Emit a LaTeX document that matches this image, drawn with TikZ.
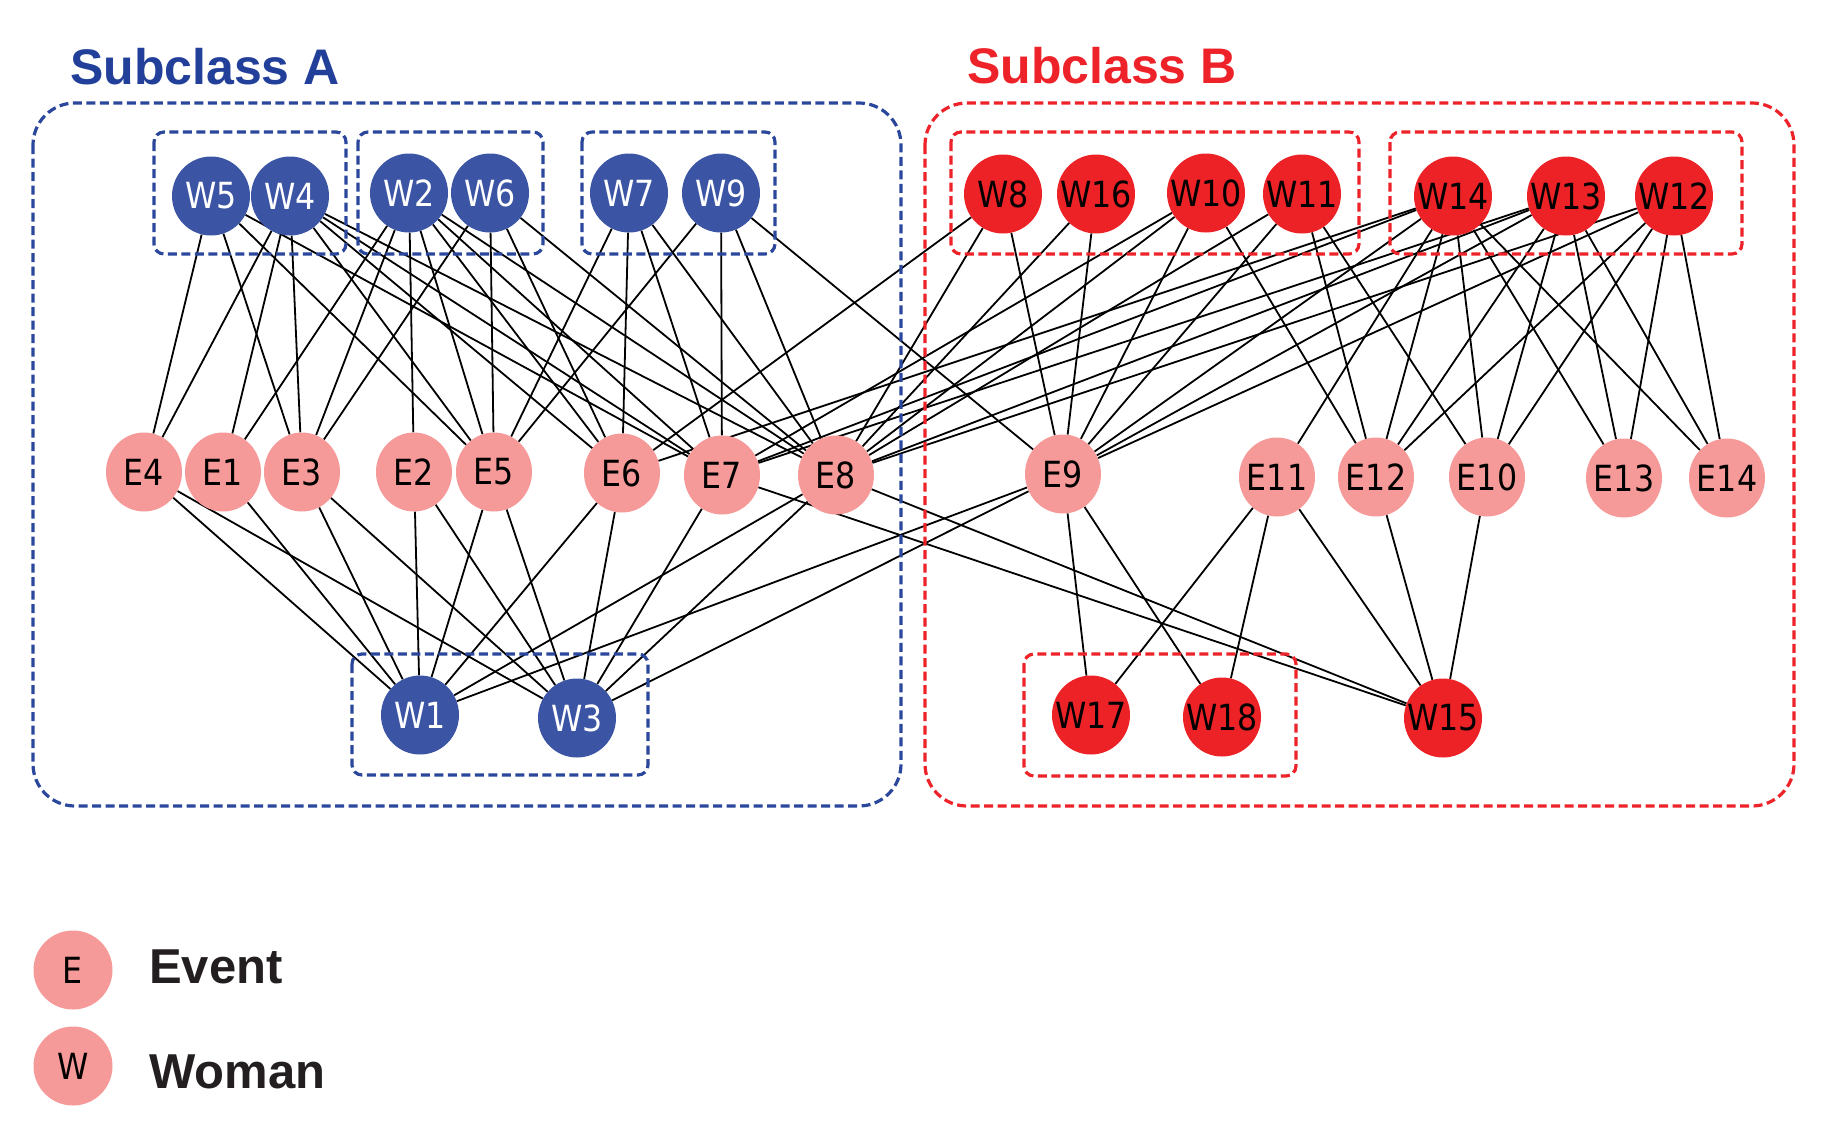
\documentclass[tikz,border=0pt]{standalone}
\usepackage{fontspec}
\setmainfont{Liberation Sans}
\newfontfamily\labfont[FakeStretch=0.88]{DejaVu Sans}
\usetikzlibrary{shapes.geometric,backgrounds}
\definecolor{wblue}{HTML}{3B54A4}
\definecolor{bbox}{HTML}{2A479C}
\definecolor{wred}{HTML}{EC2227}
\definecolor{epink}{HTML}{F59999}
\definecolor{tblue}{HTML}{22409A}
\definecolor{tred}{HTML}{EE2229}
\definecolor{tdark}{HTML}{231F20}
\newcommand\nodelab[1]{\makebox[0pt][c]{#1}}
\begin{document}
\begin{tikzpicture}[x=1pt,y=-1pt,
  base/.style={ellipse,minimum width=78pt,minimum height=79pt,inner sep=0pt,font=\labfont\fontsize{36}{36}\selectfont},
  wa/.style={base,fill=wblue,text=white},
  wb/.style={base,fill=wred,text=black},
  ev/.style={base,fill=epink,text=black,minimum width=76pt},
  edge/.style={line width=1.8pt,black},
  boxA/.style={draw=bbox,line width=3.2pt,dash pattern=on 9pt off 4.5pt},
  boxB/.style={draw=tred,line width=3.2pt,dash pattern=on 9pt off 4.5pt},
  title/.style={anchor=base west,inner sep=0pt,font=\bfseries\fontsize{50}{50}\selectfont},
  legtext/.style={anchor=base west,inner sep=0pt,text=tdark,font=\bfseries\fontsize{49}{49}\selectfont},
  legnode/.style={circle,fill=epink,minimum size=79pt,inner sep=0pt,font=\labfont\fontsize{36}{36}\selectfont}
]
\useasboundingbox (0,0) rectangle (1837,1128);

% titles
\node[title,text=tblue] (tA) at (70,84) {Subclass A};
\node[title,text=tred] (tB) at (967,83) {Subclass B};

% women, subclass A
\node[wa] (W5) at (211,196) {\nodelab{W5}};
\node[wa] (W4) at (290,196) {\nodelab{W4}};
\node[wa] (W2) at (409,193) {\nodelab{W2}};
\node[wa] (W6) at (490,193) {\nodelab{W6}};
\node[wa] (W7) at (629,193) {\nodelab{W7}};
\node[wa] (W9) at (721,193) {\nodelab{W9}};
\node[wa] (W1) at (420,715) {\nodelab{W1}};
\node[wa] (W3) at (577,718) {\nodelab{W3}};
% women, subclass B
\node[wb] (W8) at (1003,194) {\nodelab{W8}};
\node[wb] (W16) at (1096,194) {\nodelab{W16}};
\node[wb] (W10) at (1206,193) {\nodelab{W10}};
\node[wb] (W11) at (1302,194) {\nodelab{W11}};
\node[wb] (W14) at (1453,196) {\nodelab{W14}};
\node[wb] (W13) at (1566,196) {\nodelab{W13}};
\node[wb] (W12) at (1674,196) {\nodelab{W12}};
\node[wb] (W17) at (1091,715) {\nodelab{W17}};
\node[wb] (W18) at (1222,717) {\nodelab{W18}};
\node[wb] (W15) at (1443,718) {\nodelab{W15}};
% events
\node[ev] (E4) at (144,472) {\nodelab{E4}};
\node[ev] (E1) at (223,472) {\nodelab{E1}};
\node[ev] (E3) at (302,472) {\nodelab{E3}};
\node[ev] (E2) at (414,472) {\nodelab{E2}};
\node[ev] (E5) at (494,472) {\nodelab{E5}};
\node[ev] (E6) at (622,473) {\nodelab{E6}};
\node[ev] (E7) at (722,475) {\nodelab{E7}};
\node[ev] (E8) at (836,475) {\nodelab{E8}};
\node[ev] (E9) at (1063,474) {\nodelab{E9}};
\node[ev] (E11) at (1277,477) {\nodelab{E11}};
\node[ev] (E12) at (1376,477) {\nodelab{E12}};
\node[ev] (E10) at (1487,477) {\nodelab{E10}};
\node[ev] (E13) at (1624,478) {\nodelab{E13}};
\node[ev] (E14) at (1727,478) {\nodelab{E14}};

\begin{pgfonlayer}{background}
\foreach \w/\es in {W1/{E1,E2,E3,E4,E5,E6,E8,E9},
                    W2/{E1,E2,E3,E5,E6,E7,E8},
                    W3/{E2,E3,E4,E5,E6,E7,E8,E9},
                    W4/{E1,E3,E4,E5,E6,E7,E8},
                    W5/{E3,E4,E5,E7},
                    W6/{E3,E5,E6,E8},
                    W7/{E5,E6,E7,E8},
                    W8/{E6,E8,E9},
                    W9/{E5,E7,E8,E9},
                    W10/{E7,E8,E9,E12},
                    W11/{E8,E9,E10,E12},
                    W12/{E8,E9,E10,E12,E13,E14},
                    W13/{E7,E8,E9,E10,E12,E13,E14},
                    W14/{E6,E7,E9,E10,E11,E12,E13,E14},
                    W15/{E7,E8,E10,E11,E12},
                    W16/{E8,E9},
                    W17/{E9,E11},
                    W18/{E9,E11}}{
  \foreach \e in \es { \draw[edge] (\w) -- (\e); }
}
% group boxes
\draw[boxA,rounded corners=42pt] (33,103) rectangle (901,806);
\draw[boxB,rounded corners=42pt] (925,103) rectangle (1794,806);
\draw[boxA,rounded corners=10pt] (154,132) rectangle (346,254);
\draw[boxA,rounded corners=10pt] (358,132) rectangle (543,254);
\draw[boxA,rounded corners=10pt] (582,132) rectangle (775,254);
\draw[boxA,rounded corners=10pt] (352,654) rectangle (648,775);
\draw[boxB,rounded corners=10pt] (951,132) rectangle (1359,254);
\draw[boxB,rounded corners=10pt] (1390,132) rectangle (1742,254);
\draw[boxB,rounded corners=10pt] (1024,654) rectangle (1296,776);
\end{pgfonlayer}

% legend
\node[legnode] (LE) at (73,970) {E};
\node[legnode] (LW) at (73,1066) {W};
\node[legtext] (LEt) at (149,983) {Event};
\node[legtext] (LWt) at (149,1088) {Woman};
\end{tikzpicture}
\end{document}
